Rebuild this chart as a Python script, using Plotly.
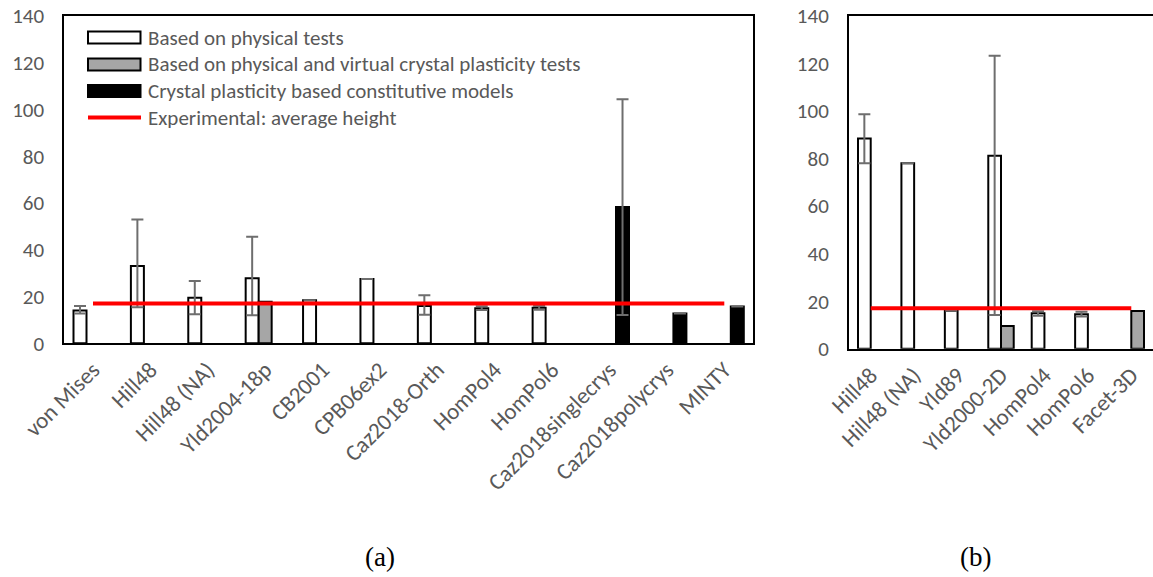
import plotly.graph_objects as go

# ---- data ----
left_cats = ['von Mises', 'Hill48', 'Hill48 (NA)', 'Yld2004-18p', 'CB2001', 'CPB06ex2',
             'Caz2018-Orth', 'HomPol4', 'HomPol6', 'Caz2018singlecrys', 'Caz2018polycrys', 'MINTY']
left_phys = [14.0, 33.1, 19.5, 27.8, 18.4, 27.5, 16.0, 15.0, 15.2, None, None, None]
left_phys_up = [2.0, 19.9, 7.1, 17.8, 0, 0, 4.5, 0.8, 0.8, 0, 0, 0]
left_phys_dn = [1.2, 17.7, 7.1, 15.8, 0, 0, 3.8, 0.8, 0.8, 0, 0, 0]
left_virt = [None, None, None, 17.8, None, None, None, None, None, None, None, None]
left_cp = [None, None, None, None, None, None, None, None, None, 58.3, 12.8, 15.7]
left_cp_up = [0, 0, 0, 0, 0, 0, 0, 0, 0, 46.1, 0, 0]
left_cp_dn = [0, 0, 0, 0, 0, 0, 0, 0, 0, 46.2, 0, 0]

right_cats = ['Hill48', 'Hill48 (NA)', 'Yld89', 'Yld2000-2D', 'HomPol4', 'HomPol6', 'Facet-3D']
right_phys = [88.4, 78.0, 16.0, 81.2, 14.9, 14.5, None]
right_phys_up = [10.3, 0, 0, 42.1, 0.9, 1.1, 0]
right_phys_dn = [10.4, 0, 0, 67.0, 1.0, 1.0, 0]
right_virt = [None, None, None, 9.6, None, None, 15.9]

exp_avg = 17

legend_names = ['Based on physical tests',
                'Based on physical and virtual crystal plasticity tests',
                'Crystal plasticity based constitutive models',
                'Experimental: average height']

W, H = 1153, 577
TXT = '#595959'
ERR = '#6e6e6e'
FONT = 'Carlito, Lato, sans-serif'


def px(x):
    return x / W


def py(y):
    return 1 - y / H


fig = go.Figure()

# left panel: 3 bars per category, explicit width/offset (category units)
lw = 0.2265
err_kw = dict(type='data', symmetric=False, color=ERR, thickness=2, width=6)
edge = dict(color='black', width=2)
fig.add_trace(go.Bar(x=left_cats, y=left_phys, width=lw, offset=-1.5 * lw,
                     marker=dict(color='white', line=edge),
                     error_y=dict(array=left_phys_up, arrayminus=left_phys_dn, **err_kw),
                     xaxis='x', yaxis='y', showlegend=False))
fig.add_trace(go.Bar(x=left_cats, y=left_virt, width=lw, offset=-0.5 * lw,
                     marker=dict(color='#a6a6a6', line=edge),
                     xaxis='x', yaxis='y', showlegend=False))
fig.add_trace(go.Bar(x=left_cats, y=left_cp, width=lw, offset=0.5 * lw,
                     marker=dict(color='black', line=edge),
                     error_y=dict(array=left_cp_up, arrayminus=left_cp_dn, **err_kw),
                     xaxis='x', yaxis='y', showlegend=False))
fig.add_trace(go.Scatter(x=left_cats, y=[exp_avg] * len(left_cats), mode='lines',
                         line=dict(color='#ff0000', width=4), xaxis='x', yaxis='y',
                         showlegend=False))

# right panel: 2 bars per category
rw = 0.293
fig.add_trace(go.Bar(x=right_cats, y=right_phys, width=rw, offset=-rw,
                     marker=dict(color='white', line=edge),
                     error_y=dict(array=right_phys_up, arrayminus=right_phys_dn, **err_kw),
                     xaxis='x2', yaxis='y2', showlegend=False))
fig.add_trace(go.Bar(x=right_cats, y=right_virt, width=rw, offset=0,
                     marker=dict(color='#a6a6a6', line=edge),
                     xaxis='x2', yaxis='y2', showlegend=False))
fig.add_trace(go.Scatter(x=right_cats, y=[exp_avg] * len(right_cats), mode='lines',
                         line=dict(color='#ff0000', width=4), xaxis='x2', yaxis='y2',
                         showlegend=False))

xax = dict(type='category', showline=True, mirror=True, linecolor='black', linewidth=2,
           showgrid=False, ticks='', tickangle=-45, tickfont=dict(family=FONT, size=23, color=TXT),
           zeroline=False, automargin=False, ticklabelstandoff=2)
yax = dict(range=[0, 140], dtick=20, showline=True, mirror=True, linecolor='black', linewidth=2,
           showgrid=False, ticks='', tickfont=dict(family=FONT, size=21, color=TXT),
           zeroline=False, automargin=False, ticklabelstandoff=14)

fig.update_layout(
    width=W, height=H, margin=dict(l=0, r=0, t=0, b=0, autoexpand=False),
    paper_bgcolor='white', plot_bgcolor='white', barmode='overlay',
    xaxis=dict(domain=[px(64.3), px(753)], anchor='y', **xax),
    yaxis=dict(domain=[py(343.3), py(16)], anchor='x', **yax),
    xaxis2=dict(domain=[px(849), 1.0], anchor='y2', **xax),
    yaxis2=dict(domain=[py(348.7), py(16)], anchor='x2', **yax),
)

# manual legend in the left panel
shapes = []
annots = []
rows = [37.5, 64.5, 91, 117.5]
styles = [('white', 'black'), ('#a6a6a6', 'black'), ('black', 'black')]
for i, (fill, ec) in enumerate(styles):
    shapes.append(dict(type='rect', xref='paper', yref='paper',
                       x0=px(88), x1=px(140.5), y0=py(rows[i] + 6), y1=py(rows[i] - 6),
                       fillcolor=fill, line=dict(color=ec, width=2)))
shapes.append(dict(type='line', xref='paper', yref='paper',
                   x0=px(88), x1=px(141), y0=py(rows[3]), y1=py(rows[3]),
                   line=dict(color='#ff0000', width=4)))
for i, name in enumerate(legend_names):
    annots.append(dict(text=name, xref='paper', yref='paper', x=px(146), y=py(rows[i]),
                       xanchor='left', yanchor='middle', showarrow=False,
                       font=dict(family=FONT, size=21, color=TXT)))

for lab, xc in [('(a)', 380), ('(b)', 975)]:
    annots.append(dict(text=lab, xref='paper', yref='paper', x=px(xc), y=py(557),
                       xanchor='center', yanchor='middle', showarrow=False,
                       font=dict(family='Liberation Serif, Times New Roman, serif', size=27,
                                 color='black')))

fig.update_layout(shapes=shapes, annotations=annots)

# page body has a default 8px margin; drop it so the figure sits at the window origin
fig.write_html("out.html", config={'staticPlot': True, 'displayModeBar': False},
               post_script="document.body.style.margin='0';")
